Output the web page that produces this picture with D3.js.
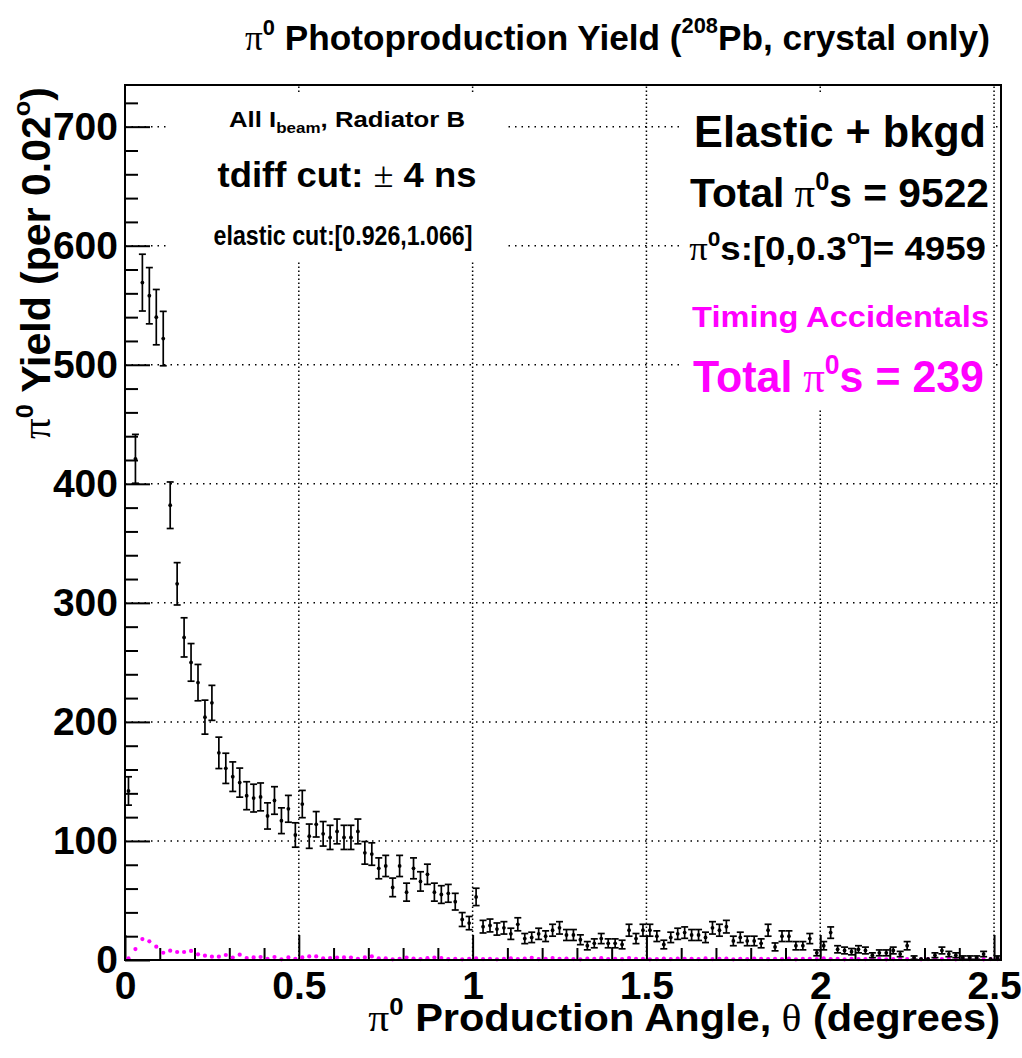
<!DOCTYPE html>
<html><head><meta charset="utf-8">
<script src="https://cdn.jsdelivr.net/npm/d3@7"></script>
<style>body{margin:0;background:#fff}</style>
</head><body>
<svg id="c" width="1022" height="1058"></svg>
<script>
// ---------------- data ----------------
const binWidth = 0.02;            // degrees per bin
const xDomain = [0, 2.52];
const yDomain = [0, 735];

// Elastic + background yield per 0.02 deg bin (bins 0..125)
const elasticYield = [
  142,421,569,558,540,522,382,316,271,250,
  233,204,216,174,161,154,149,138,136,137,
  121,134,117,127,105,131,104,114,106,103,
  108,103,103,108, 90, 89, 77, 79, 61, 79,
   57, 77, 66, 72, 57, 55, 56, 49, 34, 31,
   53, 28, 29, 26, 27, 22, 30, 18, 19, 22,
   20, 25, 27, 21, 21, 17, 12, 14, 18, 14,
   14, 13, 25, 18, 25, 25, 20, 13, 19, 22,
   23, 21, 21, 19, 27, 25, 28, 16, 19, 16,
   16, 14, 25, 11, 20, 20, 12, 12, 18,  6,
   12, 23,  9,  8,  7,  9,  8,  4,  6,  6,
    8,  5, 12,  2,  1,  1,  4,  8,  5,  4,
    2,  2,  2,  5,  1,  2
];

// Timing accidentals yield per bin (bins 0..125)
const accidentalYield = [
  1.4, 9.2,17.6,15.7,11.2, 6.1, 7.8, 6.7, 6.7, 7.6,
  4.8, 3.6, 2.8, 2.8, 4.2, 2.0, 4.5, 1.7, 2.2, 2.5,
  1.0, 2.5, 0.6, 2.2, 1.0, 2.2, 3.0, 3.0, 1.4, 1.7,
  2.0, 2.2, 2.0, 1.0, 2.2, 3.0, 1.4, 1.4, 0.6, 1.0,
  2.0, 1.2, 0.8, 1.5, 2.0, 1.6, 0.7, 1.0, 0.6, 0.9,
  1.3, 0.8, 1.0, 0.6, 0.9, 1.4, 0.8, 1.1, 1.9, 0.7,
  1.0, 1.6, 0.9, 1.2, 0.8, 0.6, 1.1, 0.9, 1.5, 0.8,
  1.0, 0.7, 1.6, 0.9, 1.0, 0.6, 0.8, 1.2, 0.7, 1.1,
  0.9, 1.0, 0.8, 1.3, 0.7, 0.9, 1.1, 0.6, 1.0, 0.8,
  1.2, 0.9, 0.7, 1.0, 0.8, 1.1, 0.6, 0.9, 1.0, 0.7,
  1.3, 0.8, 0.9, 0.6, 1.0, 0.8, 0.7, 1.1, 0.9, 0.6,
  0.8, 1.0, 0.7, 0.9, 0.6, 0.8, 1.0, 0.7, 0.9, 0.6,
  0.8, 0.7, 0.9, 0.6, 0.8, 0.7
];

const xMajorTicks = [0, 0.5, 1, 1.5, 2, 2.5];
const xTickLabels = ["0", "0.5", "1", "1.5", "2", "2.5"];
const yMajorTicks = [0, 100, 200, 300, 400, 500, 600, 700];
const yTickLabels = ["0", "100", "200", "300", "400", "500", "600", "700"];

// ---------------- drawing ----------------
const SANS = "'Liberation Sans', Arial, Helvetica, sans-serif";
const SERIF = "'Liberation Serif', 'DejaVu Serif', serif";
const MAGENTA = "#ff00ff";

const svg = d3.select("#c");
svg.append("rect").attr("width", 1022).attr("height", 1058).attr("fill", "#fff");

const L = 125, R = 1001, T = 85, B = 960;
const x = d3.scaleLinear().domain(xDomain).range([L, R]);
const y = d3.scaleLinear().domain(yDomain).range([B, T]);

// grid
const gGrid = svg.append("g").attr("stroke", "#000").attr("fill", "none");
gGrid.append("g").selectAll("line").data(xMajorTicks.filter(d => d > 0)).join("line")
  .attr("x1", d => x(d)).attr("x2", d => x(d)).attr("y1", B).attr("y2", T)
  .attr("stroke-width", 1.5).attr("stroke-dasharray", "1.5,2.5");
gGrid.append("g").selectAll("line").data(yMajorTicks.filter(d => d > 0)).join("line")
  .attr("y1", d => y(d)).attr("y2", d => y(d)).attr("x1", L).attr("x2", R)
  .attr("stroke-width", 1.5).attr("stroke-dasharray", "1.5,5");

// white text panes (hide grid)
svg.append("rect").attr("x", 170).attr("y", 93).attr("width", 335).attr("height", 168).attr("fill", "#fff");
svg.append("rect").attr("x", 683).attr("y", 93).attr("width", 310).attr("height", 317).attr("fill", "#fff");

// axes (ticks inside)
function styleAxis(g) {
  g.select(".domain").remove();
  g.selectAll("line").attr("stroke", "#000").attr("stroke-width", 2);
  g.selectAll("text").attr("font-family", SANS).attr("font-weight", "bold")
    .attr("font-size", 39).attr("fill", "#000");
}
const xAxis = d3.axisBottom(x).tickValues(xMajorTicks)
  .tickFormat((d, i) => xTickLabels[i]).tickSizeInner(-25).tickSizeOuter(0).tickPadding(11);
svg.append("g").attr("transform", `translate(0,${B})`).call(xAxis).call(styleAxis);
const xMinor = d3.axisBottom(x).tickValues(d3.range(0.1, 2.52, 0.1).filter(v => Math.abs(v / 0.5 - Math.round(v / 0.5)) > 1e-6))
  .tickFormat("").tickSizeInner(-12).tickSizeOuter(0);
svg.append("g").attr("transform", `translate(0,${B})`).call(xMinor).call(styleAxis);

const yAxis = d3.axisLeft(y).tickValues(yMajorTicks)
  .tickFormat((d, i) => yTickLabels[i]).tickSizeInner(-25).tickSizeOuter(0).tickPadding(7);
svg.append("g").attr("transform", `translate(${L},0)`).call(yAxis).call(styleAxis);
const yMinor = d3.axisLeft(y).tickValues(d3.range(20, 735, 20).filter(v => v % 100 !== 0))
  .tickFormat("").tickSizeInner(-13).tickSizeOuter(0);
svg.append("g").attr("transform", `translate(${L},0)`).call(yMinor).call(styleAxis);

// accidentals (magenta dots)
svg.append("g").selectAll("circle").data(accidentalYield).join("circle")
  .attr("cx", (d, i) => x((i + 0.5) * binWidth)).attr("cy", d => y(d))
  .attr("r", 2.1).attr("fill", MAGENTA);

// elastic + bkgd: points with Poisson error bars
const gData = svg.append("g").attr("stroke", "#000").attr("stroke-width", 1.7);
elasticYield.forEach((v, i) => {
  const cx = x((i + 0.5) * binWidth);
  const e = Math.sqrt(v);
  const y1 = y(v + e), y0 = y(Math.max(v - e, 0));
  if (y0 - y1 > 3) {
    gData.append("line").attr("x1", cx).attr("x2", cx).attr("y1", y1).attr("y2", y0);
    gData.append("line").attr("x1", cx - 3.5).attr("x2", cx + 3.5).attr("y1", y1).attr("y2", y1);
    gData.append("line").attr("x1", cx - 3.5).attr("x2", cx + 3.5).attr("y1", y0).attr("y2", y0);
  }
  gData.append("circle").attr("cx", cx).attr("cy", y(v)).attr("r", 1.9).attr("fill", "#000").attr("stroke", "none");
});

// frame
svg.append("rect").attr("x", L).attr("y", T).attr("width", R - L).attr("height", B - T)
  .attr("fill", "none").attr("stroke", "#000").attr("stroke-width", 2);

// rich text helper
function rich(parts, o) {
  const t = svg.append("text").attr("font-family", SANS).attr("font-weight", "bold")
    .attr("font-size", o.size).attr("fill", o.color || "#000").attr("text-anchor", o.anchor || "start");
  let shift = 0;
  parts.forEach(p => {
    if (typeof p === "string") p = { t: p };
    const sp = t.append("tspan").text(p.t);
    const fs = o.size * (p.sup ? 0.62 : p.sub ? 0.66 : 1);
    sp.attr("font-size", fs);
    if (p.sym) sp.attr("font-family", SERIF).attr("font-weight", "normal");
    const target = p.sup ? -o.size * (p.supH || 0.42) : p.sub ? o.size * 0.28 : 0;
    if (target !== shift) { sp.attr("dy", target - shift); shift = target; }
  });
  const w = t.node().getBBox().width;
  const s = o.width ? o.width / w : 1;
  t.attr("transform", `translate(${o.x},${o.y})${o.rotate ? ` rotate(${o.rotate})` : ""} scale(${s},1)`);
  return t;
}

// title
rich([{ t: "π", sym: true }, { t: "0", sup: true }, " Photoproduction Yield (", { t: "208", sup: true, supH: 0.5 }, "Pb, crystal only)"],
  { x: 245, y: 50, size: 35, width: 745 });

// axis titles
rich([{ t: "π", sym: true }, { t: "0", sup: true }, " Production Angle,", { t: " θ", sym: true }, " (degrees)"],
  { x: 1000, y: 1031, size: 38, anchor: "end", width: 632 });
rich([{ t: "π", sym: true }, { t: "0", sup: true }, " Yield (per 0.02", { t: "o", sup: true, supH: 0.5 }, ")"],
  { x: 50, y: 263, size: 40, anchor: "middle", width: 352, rotate: -90 });

// left annotations
rich(["All I", { t: "beam", sub: true }, ", Radiator B"], { x: 347, y: 127, size: 22, anchor: "middle", width: 236 });
rich(["tdiff cut: ", { t: "±", sym: true }, " 4 ns"], { x: 347, y: 187, size: 35, anchor: "middle", width: 259 });
rich(["elastic cut:[0.926,1.066]"], { x: 343, y: 245, size: 28, anchor: "middle", width: 259 });

// right annotations
rich(["Elastic + bkgd"], { x: 986, y: 147, size: 44, anchor: "end", width: 292 });
rich(["Total", { t: " π", sym: true }, { t: "0", sup: true }, "s = 9522"], { x: 989, y: 207, size: 41, anchor: "end", width: 299 });
rich([{ t: "π", sym: true }, { t: "0", sup: true }, "s:[0,0.3", { t: "o", sup: true, supH: 0.5 }, "]= 4959"], { x: 986, y: 260, size: 33, anchor: "end", width: 297 });
rich(["Timing Accidentals"], { x: 989, y: 327, size: 30, anchor: "end", width: 297, color: MAGENTA });
rich(["Total", { t: " π", sym: true }, { t: "0", sup: true }, "s = 239"], { x: 984, y: 392, size: 44, anchor: "end", width: 291, color: MAGENTA });
</script>
</body></html>
